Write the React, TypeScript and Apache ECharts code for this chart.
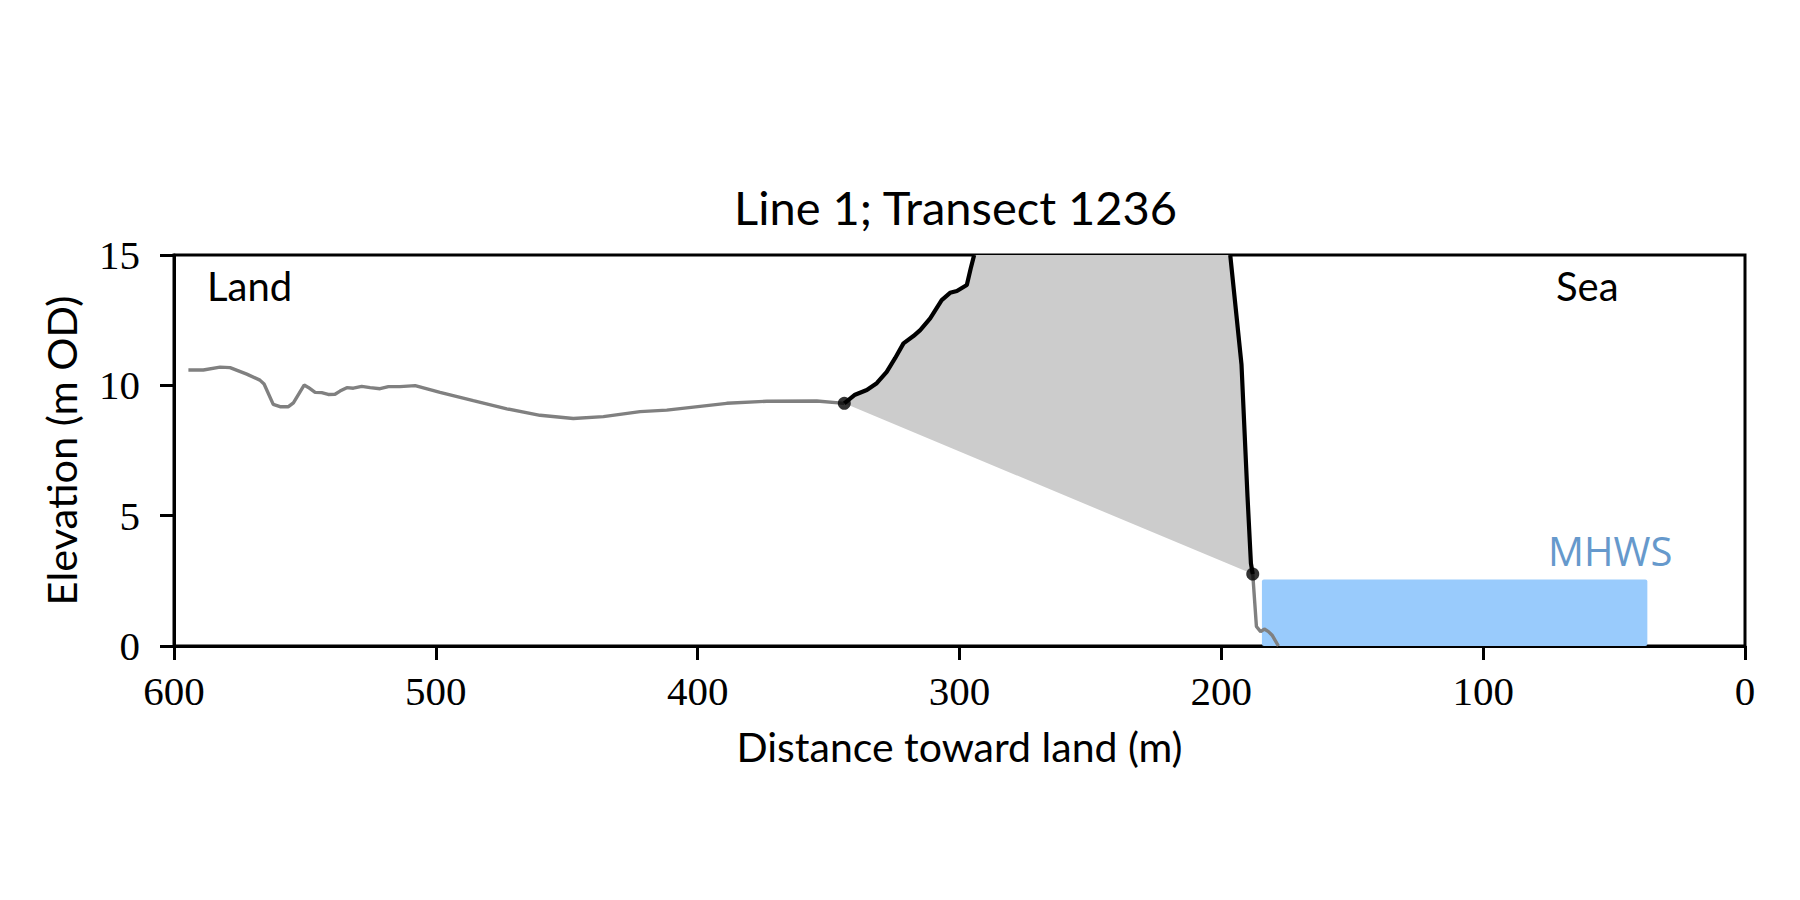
import React, { useEffect, useRef } from "react";
import * as echarts from "echarts";

// Land profile (grey): distance toward land (m), elevation (m OD)
const landX = [594.5, 588.8, 582.4, 578.6, 572.2, 567.2, 565.6, 562.1, 559.5, 556.3, 554.4, 550.3, 548.7, 546.1, 543.6, 541.1, 538.5, 536.6, 534.0, 531.5, 528.3, 525.1, 521.3, 518.1, 513.7, 507.9, 498.4, 485.7, 472.9, 460.2, 447.5, 436.0, 422.0, 411.8, 388.9, 373.6, 354.5, 344.0];
const landY = [10.59, 10.59, 10.70, 10.68, 10.43, 10.20, 10.05, 9.27, 9.18, 9.18, 9.33, 10.01, 9.92, 9.73, 9.72, 9.65, 9.66, 9.78, 9.91, 9.89, 9.96, 9.91, 9.87, 9.95, 9.95, 9.99, 9.73, 9.41, 9.10, 8.85, 8.73, 8.80, 8.99, 9.05, 9.31, 9.39, 9.40, 9.31];

// Cliff edge (black, landward side)
const cliffX = [344.0, 339.9, 335.4, 331.6, 327.8, 324.6, 321.4, 317.6, 315.0, 311.2, 306.8, 303.6, 301.0, 297.2, 295.7, 294.4];
const cliffY = [9.31, 9.64, 9.82, 10.08, 10.52, 11.04, 11.61, 11.89, 12.12, 12.57, 13.27, 13.55, 13.62, 13.85, 14.49, 15.0];

// Cliff face (black, seaward side)
const faceX = [196.6, 192.3, 190.0, 188.7, 188.0];
const faceY = [15.0, 10.8, 5.73, 3.17, 2.76];

// Beach (grey)
const beachX = [188.0, 186.6, 185.0, 183.6, 182.0, 180.5, 178.2];
const beachY = [2.76, 0.75, 0.55, 0.65, 0.55, 0.40, 0.0];

// Cliff toe / top markers
const markerX = [344.0, 188.0];
const markerY = [9.31, 2.76];

// MHWS band: from, to (m), level (m OD)
const mhwsFrom = 184.5;
const mhwsTo = 37.3;
const mhwsLevel = 2.55;

const xTicks = [0, 100, 200, 300, 400, 500, 600];
const yTicks = [0, 5, 10, 15];

const zip = (xs: number[], ys: number[]) => xs.map((x, i) => [x, ys[i]]);

const SANS = "Lato, 'Open Sans', sans-serif";
const SANS_WIDE = "'Open Sans', Lato, sans-serif";
const SERIF = "'Liberation Serif', 'DejaVu Serif', serif";

export default function App() {
  const ref = useRef<HTMLDivElement>(null);
  useEffect(() => {
    if (!ref.current) return;
    const chart = echarts.init(ref.current, null, { renderer: "svg" });
    const polygonPts = [...zip(cliffX, cliffY), ...zip(faceX, faceY)];
    chart.setOption({
      animation: false,
      backgroundColor: "#ffffff",
      title: {
        text: "Line 1; Transect 1236",
        left: 729,
        top: 178,
        textStyle: { fontFamily: SANS, fontSize: 47, fontWeight: "normal", color: "#000" },
      },
      grid: {
        left: 174,
        right: 55,
        top: 255,
        bottom: 254,
        show: true,
        borderColor: "#000",
        borderWidth: 3,
        backgroundColor: "transparent",
      },
      xAxis: {
        type: "value",
        min: 0,
        max: 600,
        interval: 100,
        inverse: true,
        name: "Distance toward land (m)",
        nameLocation: "middle",
        nameGap: 80,
        nameTextStyle: { fontFamily: SANS, fontSize: 41, color: "#000" },
        axisLine: { show: true, onZero: false, lineStyle: { color: "#000", width: 3 } },
        axisTick: { show: true, inside: false, length: 14, lineStyle: { color: "#000", width: 3 } },
        axisLabel: { fontFamily: SERIF, fontSize: 41, color: "#000", margin: 24, formatter: (v: number) => (xTicks.includes(v) ? String(v) : "") },
        splitLine: { show: false },
      },
      yAxis: {
        type: "value",
        min: 0,
        max: 15,
        interval: 5,
        name: "Elevation (m OD)",
        nameLocation: "middle",
        nameGap: 92,
        nameTextStyle: { fontFamily: SANS, fontSize: 41.5, color: "#000" },
        axisLine: { show: true, onZero: false, lineStyle: { color: "#000", width: 3 } },
        axisTick: { show: true, inside: false, length: 14, lineStyle: { color: "#000", width: 3 } },
        axisLabel: { fontFamily: SERIF, fontSize: 41, color: "#000", margin: 34, formatter: (v: number) => (yTicks.includes(v) ? String(v) : "") },
        splitLine: { show: false },
      },
      graphic: [
        { type: "text", left: 207, top: 266, style: { text: "Land", font: `40px ${SANS}`, fill: "#000" } },
        { type: "text", left: 1556, top: 266, style: { text: "Sea", font: `40px ${SANS}`, fill: "#000" } },
        { type: "text", left: 1548, top: 530, style: { text: "MHWS", font: `40px ${SANS_WIDE}`, fill: "#6699cc" } },
      ],
      series: [
        {
          type: "custom",
          name: "mhws",
          clip: true,
          z: 1,
          data: [[mhwsFrom, mhwsTo, mhwsLevel]],
          renderItem: (params: any, api: any) => {
            const p0 = api.coord([api.value(0), api.value(2)]);
            const p1 = api.coord([api.value(1), 0]);
            return {
              type: "rect",
              shape: { x: p0[0], y: p0[1], width: p1[0] - p0[0], height: p1[1] - p0[1], r: 2 },
              style: { fill: "#99cbfc" },
            };
          },
        },
        {
          type: "custom",
          name: "erosion",
          clip: true,
          z: 2,
          data: [[0]],
          renderItem: (params: any, api: any) => ({
            type: "polygon",
            shape: { points: polygonPts.map((p) => api.coord(p)) },
            style: { fill: "#cccccc" },
          }),
        },
        {
          type: "line",
          name: "land",
          z: 3,
          data: zip(landX, landY),
          showSymbol: false,
          symbol: "none",
          lineStyle: { color: "#808080", width: 3.4 },
        },
        {
          type: "line",
          name: "beach",
          z: 3,
          data: zip(beachX, beachY),
          showSymbol: false,
          symbol: "none",
          lineStyle: { color: "#808080", width: 3.4 },
        },
        {
          type: "line",
          name: "cliff",
          z: 4,
          data: zip(cliffX, cliffY),
          showSymbol: false,
          symbol: "none",
          lineStyle: { color: "#000", width: 4.2 },
        },
        {
          type: "line",
          name: "face",
          z: 4,
          data: zip(faceX, faceY),
          showSymbol: false,
          symbol: "none",
          lineStyle: { color: "#000", width: 4.2 },
        },
        {
          type: "scatter",
          name: "markers",
          z: 5,
          data: zip(markerX, markerY),
          symbol: "circle",
          symbolSize: 13,
          itemStyle: { color: "#000" },
        },
      ],
    });
    return () => chart.dispose();
  }, []);
  return <div ref={ref} style={{ width: 1800, height: 900, margin: -8 }} />;
}
